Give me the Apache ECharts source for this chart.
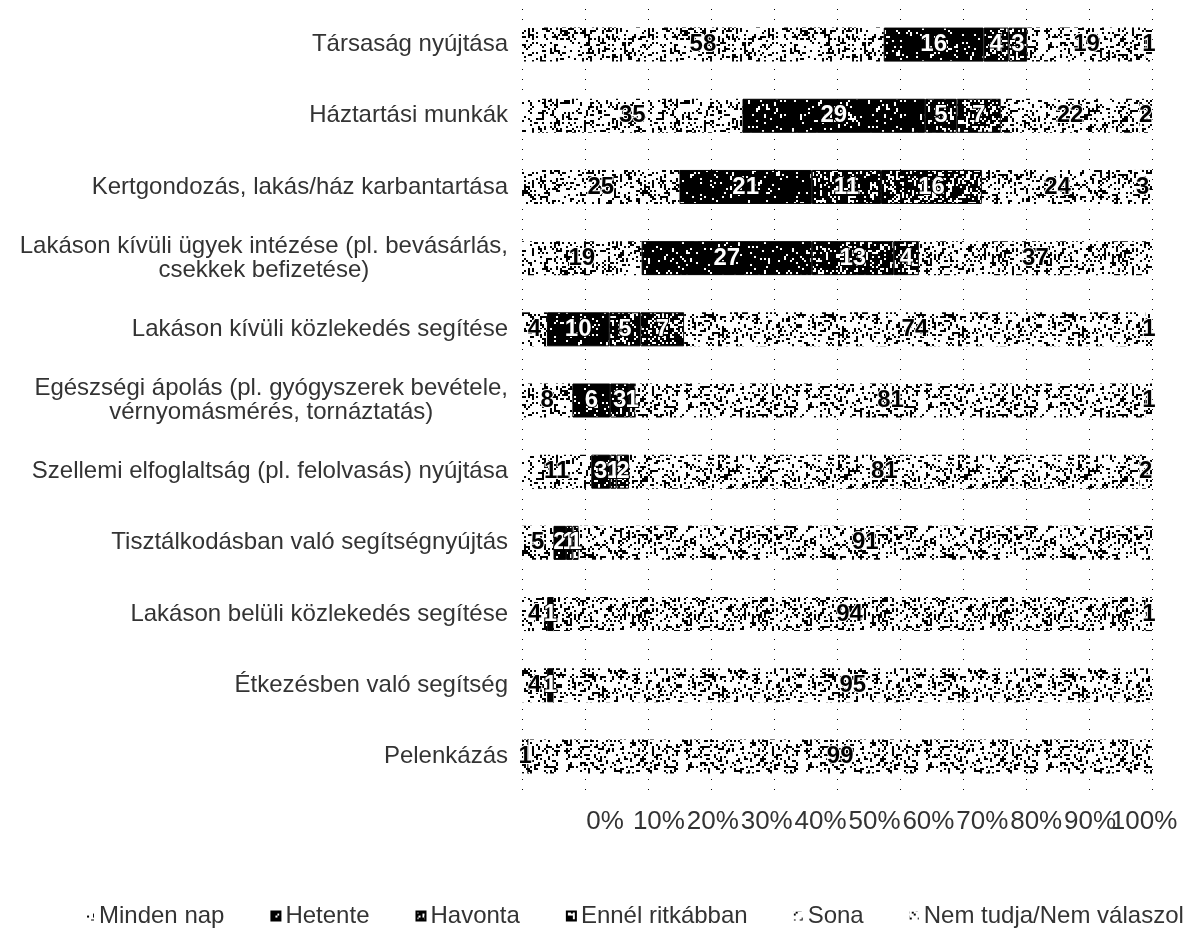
<!DOCTYPE html>
<html>
<head>
<meta charset="utf-8">
<script src="https://cdn.jsdelivr.net/npm/echarts@6/dist/echarts.min.js"></script>
<style>html,body{margin:0;padding:0;background:#fff}#c{width:1186px;height:942px}</style>
</head>
<body>
<div id="c"></div>
<script>
// ---- data ----
const categories = [
  'Társaság nyújtása',
  'Háztartási munkák',
  'Kertgondozás, lakás/ház karbantartása',
  'Lakáson kívüli ügyek intézése (pl. bevásárlás,\ncsekkek befizetése)',
  'Lakáson kívüli közlekedés segítése',
  'Egészségi ápolás (pl. gyógyszerek bevétele,\nvérnyomásmérés, tornáztatás)',
  'Szellemi elfoglaltság (pl. felolvasás) nyújtása',
  'Tisztálkodásban való segítségnyújtás',
  'Lakáson belüli közlekedés segítése',
  'Étkezésben való segítség',
  'Pelenkázás'
];
const seriesNames = ['Minden nap', 'Hetente', 'Havonta', 'Ennél ritkábban', 'Sona', 'Nem tudja/Nem válaszol'];
const mindenNap      = [58, 35, 25, 19, 4, 8, 11, 5, 4, 4, 1];
const hetente        = [16, 29, 21, 27, 10, 6, 3, 2, 1, 1, 0];
const havonta        = [4, 5, 11, 13, 5, 3, 1, 1, 0, 0, 0];
const ennelRitkabban = [3, 7, 16, 4, 7, 1, 2, 1, 0, 0, 0];
const sona           = [19, 22, 24, 37, 74, 81, 81, 91, 94, 95, 99];
const nemTudja       = [1, 2, 3, 0, 1, 1, 2, 0, 1, 0, 0];
const tickLabels = ['0%', '10%', '20%', '30%', '40%', '50%', '60%', '70%', '80%', '90%', '100%'];

const rows = [mindenNap, hetente, havonta, ennelRitkabban, sona, nemTudja];
const rowSums = categories.map((_, i) => rows.reduce((s, r) => s + r[i], 0));

// ---- noise textures (deterministic hash) ----
function hash(x, y, s) {
  let n = Math.imul(x, 374761393) + Math.imul(y, 668265263) + Math.imul(s, 982451653);
  n = Math.imul(n ^ (n >>> 13), 1274126177);
  n = n ^ (n >>> 16);
  return (n >>> 0) / 4294967296;
}
function makePattern(density, seed) {
  const size = 120, cell = 2;
  const cv = document.createElement('canvas');
  cv.width = size; cv.height = size;
  const ctx = cv.getContext('2d');
  ctx.fillStyle = '#fff';
  ctx.fillRect(0, 0, size, size);
  ctx.fillStyle = '#000';
  for (let y = 0; y < size / cell; y++) {
    for (let x = 0; x < size / cell; x++) {
      const v = hash(x, y, seed) * 0.6 + hash((x + y) >> 1, (y - x + 200) >> 1, seed + 7) * 0.4;
      if (v < density) ctx.fillRect(x * cell, y * cell, cell, cell);
    }
  }
  return { image: cv, repeat: 'repeat' };
}
const densities = [0.36, 0.8, 0.66, 0.6, 0.36, 0.36];
const patterns = densities.map((d, i) => makePattern(d, i * 31 + 5));
const darkLabel = [false, true, true, true, false, false];
const bordered = [false, true, true, true, false, false];
const FONT = 'Liberation Sans, Arial, sans-serif';

const chart = echarts.init(document.getElementById('c'), null, { renderer: 'canvas' });

const series = rows.map((arr, si) => ({
  name: seriesNames[si],
  type: 'bar',
  stack: 'total',
  xAxisIndex: 0,
  yAxisIndex: 0,
  barWidth: 34,
  itemStyle: {
    color: patterns[si],
    borderColor: bordered[si] ? '#000' : 'transparent',
    borderWidth: bordered[si] ? 1 : 0
  },
  label: {
    show: true,
    position: 'inside',
    formatter: p => (arr[p.dataIndex] > 0 ? String(arr[p.dataIndex]) : ''),
    fontFamily: FONT,
    fontWeight: 'bold',
    fontSize: 24,
    color: darkLabel[si] ? '#fff' : '#000',
    textBorderColor: darkLabel[si] ? '#000' : '#fff',
    textBorderWidth: 2
  },
  emphasis: { disabled: true },
  data: arr.map((v, i) => (v / rowSums[i]) * 100)
}));

chart.setOption({
  animation: false,
  backgroundColor: '#fff',
  legend: {
    data: seriesNames,
    left: 80,
    top: 899,
    width: 1600,
    itemWidth: 9,
    itemHeight: 9,
    itemGap: 46,
    icon: 'rect',
    textStyle: { fontFamily: FONT, fontSize: 24, color: '#333' }
  },
  grid: [
    { left: 522, right: 34, top: 9, bottom: 150, containLabel: false },
    { left: 605, right: 42, top: 9, bottom: 150, containLabel: false }
  ],
  xAxis: [
    {
      gridIndex: 0, type: 'value', min: 0, max: 100, interval: 10,
      axisLine: { show: false }, axisTick: { show: false }, axisLabel: { show: false },
      splitLine: { show: true, lineStyle: { color: '#000', type: [1, 9], width: 1 } }
    },
    {
      gridIndex: 1, type: 'category', data: tickLabels, boundaryGap: false,
      axisLine: { show: false }, axisTick: { show: false }, splitLine: { show: false },
      axisLabel: {
        margin: 17, interval: 0,
        fontFamily: FONT, fontSize: 26, color: '#333'
      }
    }
  ],
  yAxis: [
    {
      gridIndex: 0, type: 'category', data: categories, inverse: true,
      axisLine: { show: false }, axisTick: { show: false },
      axisLabel: {
        margin: 14, interval: 0,
        fontFamily: FONT, fontSize: 24, color: '#333',
        lineHeight: 24,
        formatter: v => v.includes('\n') ? v.split('\n').map(l => '{c|' + l + '}').join('\n') : v,
        rich: { c: { align: 'center', fontFamily: FONT, fontSize: 24, color: '#333', lineHeight: 24 } }
      }
    },
    { gridIndex: 1, type: 'category', data: categories, show: false }
  ],
  series: series
});
</script>
</body>
</html>
